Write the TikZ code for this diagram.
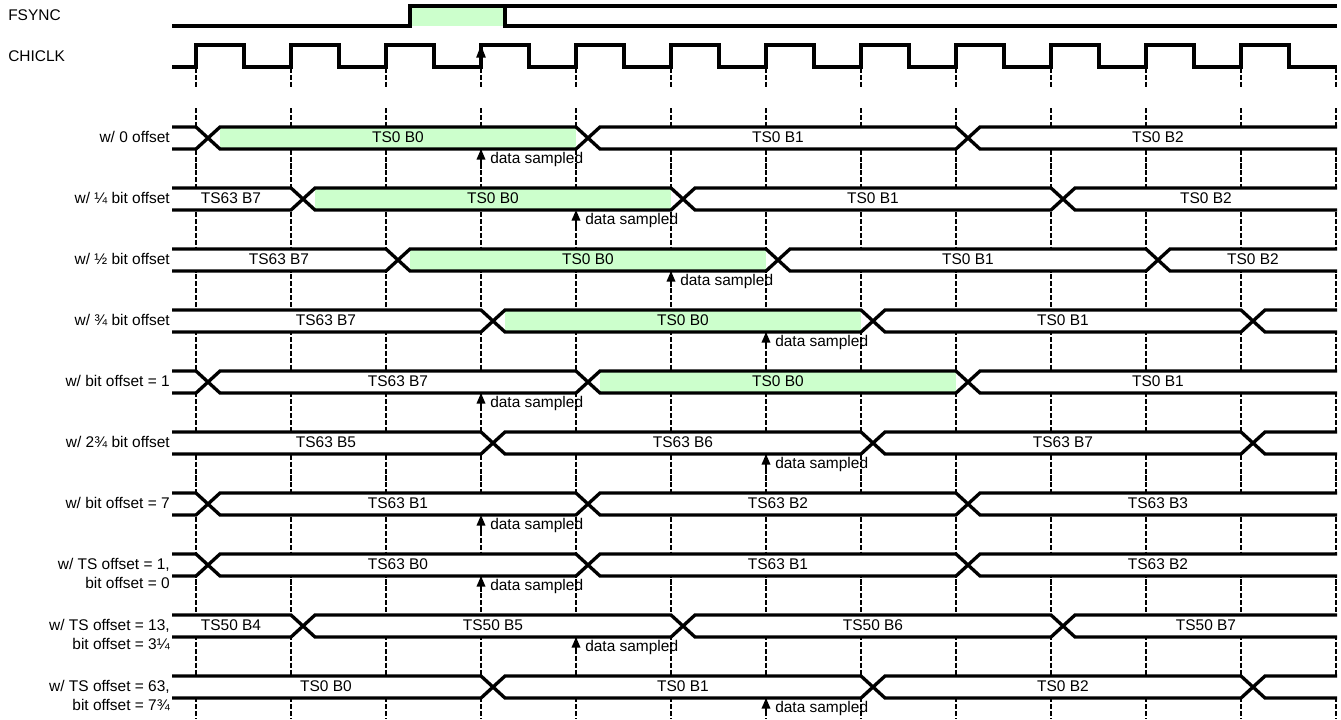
\documentclass[tikz,border=0pt]{standalone}
\usepackage{fontspec}
\setmainfont{Liberation Sans}
\usepackage{xcolor}
\usetikzlibrary{arrows.meta}

\definecolor{slotgreen}{HTML}{CCFFCC}

\begin{document}
\begin{tikzpicture}[
  x=0.75pt, y=-0.75pt,
  font=\fontsize{11.6}{14.25}\selectfont,
  wave/.style={line width=2.5pt, draw=black},
  tick/.style={line width=1.35pt, draw=black, dash pattern=on 3.8pt off 1.4pt},
  band/.style={fill=white},
  slot/.style={fill=slotgreen},
  sig/.style={anchor=base west, inner sep=0pt},
  offs/.style={anchor=north east, align=right, inner sep=0pt},
  val/.style={anchor=base, inner sep=0pt},
  note/.style={anchor=base west, inner sep=0pt},
  smp/.style={-{Triangle[length=8pt,width=6.5pt]}, line width=1.2pt, draw=black},
  clkarr/.style={-{Triangle[length=9.5pt,width=7pt]}, line width=1.2pt, draw=black}
]
\useasboundingbox (0,0) rectangle (1341,719);

% clock edges every 95px from x=196
\foreach \k in {0,...,12} {
  \draw[tick] ({196+95*\k},68) -- ({196+95*\k},88);
  \draw[tick] ({196+95*\k},108) -- ({196+95*\k},719);
}

\node[sig] (fsync) at (8,20) {FSYNC};
\node[sig] (chiclk) at (8,61) {CHICLK};

\fill[slot] (410,6) rectangle (505,26);
\draw[wave] (172,26) -- (410,26) -- (410,6) -- (1337,6);
\draw[wave] (505,6) -- (505,26) -- (1337,26);

\draw[wave] (172,67) foreach \k in {0,...,11} {
    -- ({196+95*\k},67) -- ({196+95*\k},45) -- ({244+95*\k},45) -- ({244+95*\k},67)
  } -- (1337,67);
\coordinate (edge3) at (481,45);
\draw[clkarr] ([yshift=-10pt]edge3) -- (edge3);

% rows: centre y / first change / green slot (0 = none) / sample edge / label / values
\foreach \yc/\tA/\g/\sx/\lbl/\vals in {
    138/196/1/481/{w/ 0 offset}/{398/TS0 B0,778/TS0 B1,1158/TS0 B2},
    199/291/1/576/{w/ ¼ bit offset}/{231/TS63 B7,493/TS0 B0,873/TS0 B1,1206/TS0 B2},
    260/386/1/671/{w/ ½ bit offset}/{279/TS63 B7,588/TS0 B0,968/TS0 B1,1253/TS0 B2},
    321/481/1/766/{w/ ¾ bit offset}/{326/TS63 B7,683/TS0 B0,1063/TS0 B1},
    382/196/2/481/{w/ bit offset = 1}/{398/TS63 B7,778/TS0 B0,1158/TS0 B1},
    443/481/0/766/{w/ 2¾ bit offset}/{326/TS63 B5,683/TS63 B6,1063/TS63 B7},
    504/196/0/481/{w/ bit offset = 7}/{398/TS63 B1,778/TS63 B2,1158/TS63 B3},
    565/196/0/481/{w/ TS offset = 1,\\bit offset = 0}/{398/TS63 B0,778/TS63 B1,1158/TS63 B2},
    626/291/0/576/{w/ TS offset = 13,\\bit offset = 3¼}/{231/TS50 B4,493/TS50 B5,873/TS50 B6,1206/TS50 B7},
    687/481/0/766/{w/ TS offset = 63,\\bit offset = 7¾}/{326/TS0 B0,683/TS0 B1,1063/TS0 B2}%
  }{
  \pgfmathsetmacro\tB{\tA+380}
  \pgfmathsetmacro\tC{\tA+760}
  \begin{scope}[shift={(0,\yc)}]
    \fill[band] (172,-11) rectangle (1337,11);
    \ifnum\g>0 \fill[slot] ({\tA+380*(\g-1)+24},-11) rectangle ({\tA+380*\g},11); \fi
    \draw[wave] (172,-11) -- (\tA,-11) -- ({\tA+24},11) -- (\tB,11) -- ({\tB+24},-11) -- (\tC,-11) -- ({\tC+24},11) -- (1337,11);
    \draw[wave] (172,11) -- (\tA,11) -- ({\tA+24},-11) -- (\tB,-11) -- ({\tB+24},11) -- (\tC,11) -- ({\tC+24},-11) -- (1337,-11);
    \node[offs] (off\yc) at (170,-7) {\lbl};
    \foreach \cx/\v in \vals \node[val] (v\yc-\cx) at (\cx,4.5) {\v};
    \coordinate (s\yc) at (\sx,11);
    \draw[smp] ([yshift=-12pt]s\yc) -- (s\yc);
    \node[note] (ds\yc) at ({\sx+9},25) {data sampled};
  \end{scope}
}

\end{tikzpicture}
\end{document}
